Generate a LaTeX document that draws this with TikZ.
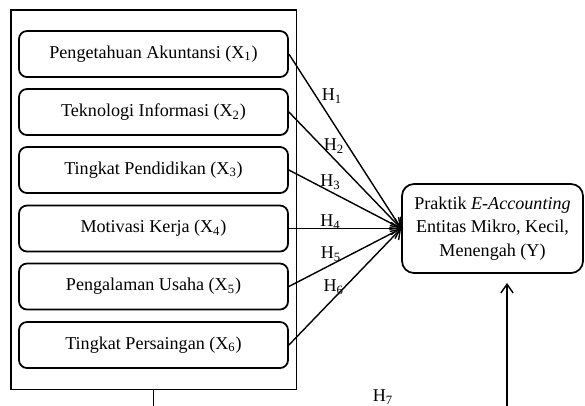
\documentclass[tikz,border=0pt]{standalone}
\usepackage{fontspec}
\setmainfont{Liberation Serif}
\usetikzlibrary{arrows.meta,positioning,calc,fit}

\begin{document}
\begin{tikzpicture}[>={Straight Barb[length=5pt,width=7pt]}, line width=0.8pt,
  font=\fontsize{10.3}{13.2}\selectfont,
  var/.style={draw,rounded corners=0.16cm,minimum width=5.38cm,minimum height=0.92cm,align=center,line width=1pt},
  hlab/.style={inner sep=1pt}]
\useasboundingbox (0,0) rectangle (11.7,-8.1);
% independent variables
\node[var] (x1) at (3.07,-1.08) {Pengetahuan Akuntansi (X\textsubscript{1})};
\node[var] (x2) at (3.07,-2.24) {Teknologi Informasi (X\textsubscript{2})};
\node[var] (x3) at (3.07,-3.40) {Tingkat Pendidikan (X\textsubscript{3})};
\node[var] (x4) at (3.07,-4.57) {Motivasi Kerja (X\textsubscript{4})};
\node[var] (x5) at (3.07,-5.73) {Pengalaman Usaha (X\textsubscript{5})};
\node[var] (x6) at (3.07,-6.90) {Tingkat Persaingan (X\textsubscript{6})};
\node[draw,line width=1pt,fit=(x1)(x6),inner xsep=0.15cm,inner ysep=0.41cm] (grp) {};
% dependent variable
\node[var,rounded corners=0.24cm,minimum width=3.62cm,minimum height=1.78cm] (y) at (9.85,-4.57)
  {Praktik \textit{E-Accounting}\\Entitas Mikro, Kecil,\\Menengah (Y)};
\draw[->] (x1.east) -- (y.west) node[hlab,pos=0.24,right=2pt] {H\textsubscript{1}};
\draw[->] (x2.east) -- (y.west) node[hlab,pos=0.29,right=0pt] {H\textsubscript{2}};
\draw[->] (x3.east) -- (y.west) node[hlab,pos=0.37,above=0pt] {H\textsubscript{3}};
\draw[->] (x4.east) -- (y.west) node[hlab,pos=0.37,above=-2pt] {H\textsubscript{4}};
\draw[->] (x5.east) -- (y.west) node[hlab,pos=0.375,above=0.5pt] {H\textsubscript{5}};
\draw[->] (x6.east) -- (y.west) node[hlab,pos=0.4,above=1pt] {H\textsubscript{6}};
% simultaneous effect (cut off below)
\coordinate (cut1) at (grp.south |- 0,-8.2);
\coordinate (cut2) at (10.14,-8.2);
\coordinate (ytip) at (10.14,-5.66);
\draw (grp.south) -- (cut1);
\draw[->] (cut2) -- (ytip);
\node[hlab] (h7) at (7.66,-7.94) {H\textsubscript{7}};
\end{tikzpicture}
\end{document}
